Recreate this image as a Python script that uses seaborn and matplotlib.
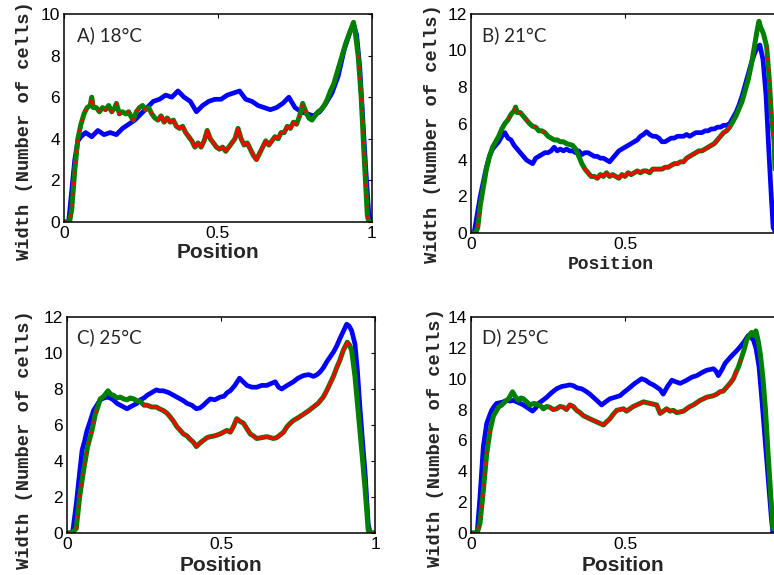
import numpy as np
import pandas as pd
import matplotlib
matplotlib.use("Agg")
import matplotlib.pyplot as plt
import seaborn as sns

# ---------------- data ----------------
titles = ["A) 18°C", "B) 21°C", "C) 25°C", "D) 25°C"]
y_maxes = [10, 12, 12, 14]

a_blue_x = [0, 0.015, 0.025, 0.035, 0.045, 0.055, 0.07, 0.09, 0.11, 0.13, 0.15, 0.17, 0.19, 0.21, 0.23, 0.25,
            0.27, 0.29, 0.31, 0.33, 0.35, 0.37, 0.39, 0.41, 0.43, 0.45, 0.47, 0.49, 0.51, 0.53, 0.55, 0.57,
            0.59, 0.61, 0.63, 0.65, 0.67, 0.69, 0.71, 0.73, 0.75, 0.77, 0.79, 0.81, 0.83, 0.85, 0.87, 0.89,
            0.91, 0.93, 0.94, 0.95, 0.96, 0.97, 0.98, 0.99, 1.0]
a_blue_y = [0, 0, 1.5, 3.0, 3.9, 4.1, 4.3, 4.1, 4.4, 4.2, 4.3, 4.2, 4.5, 4.7, 4.9, 5.2,
            5.5, 5.8, 5.9, 6.1, 6.0, 6.3, 6.0, 5.8, 5.3, 5.6, 5.8, 5.9, 5.9, 6.1, 6.2, 6.3,
            5.9, 5.8, 5.6, 5.5, 5.4, 5.5, 5.7, 6.0, 5.5, 5.3, 5.2, 5.1, 5.3, 5.7, 6.2, 7.0,
            8.3, 9.2, 9.5, 9.0, 7.5, 5.0, 2.5, 0.3, 0]
a_rg_x = [0, 0.018, 0.025, 0.035, 0.045, 0.055, 0.065, 0.075, 0.085, 0.09, 0.095, 0.105, 0.115, 0.125, 0.135,
          0.145, 0.155, 0.165, 0.17, 0.18, 0.19, 0.2, 0.21, 0.22, 0.225, 0.235, 0.245, 0.255, 0.265, 0.275,
          0.285, 0.295, 0.305, 0.315, 0.325, 0.335, 0.345, 0.355, 0.365, 0.375, 0.385, 0.395, 0.405, 0.415,
          0.425, 0.435, 0.445, 0.455, 0.465, 0.475, 0.485, 0.495, 0.505, 0.515, 0.525, 0.535, 0.545, 0.555,
          0.565, 0.575, 0.585, 0.595, 0.605, 0.615, 0.625, 0.635, 0.645, 0.655, 0.665, 0.675, 0.685, 0.695,
          0.705, 0.715, 0.725, 0.735, 0.745, 0.755, 0.765, 0.775, 0.785, 0.795, 0.805, 0.815, 0.825, 0.835,
          0.845, 0.855, 0.865, 0.875, 0.885, 0.895, 0.905, 0.915, 0.925, 0.935, 0.94, 0.945, 0.955, 0.965,
          0.975, 0.985, 0.99, 1.0]
a_rg_y = [0, 0, 0.6, 2.5, 4.0, 4.7, 5.2, 5.5, 5.6, 6.0, 5.5, 5.5, 5.3, 5.5, 5.4,
          5.6, 5.3, 5.5, 5.7, 5.2, 5.3, 5.2, 5.3, 5.0, 4.9, 5.3, 5.5, 5.6, 5.4, 5.5,
          5.2, 5.0, 4.9, 5.1, 4.8, 5.0, 4.8, 4.9, 4.6, 4.5, 4.6, 4.3, 4.1, 3.9,
          3.6, 3.8, 3.6, 3.9, 4.4, 4.0, 3.8, 3.6, 3.5, 3.6, 3.4, 3.6, 3.8, 4.0,
          4.5, 4.0, 3.7, 3.8, 3.5, 3.2, 3.0, 3.3, 3.6, 3.9, 3.7, 3.9, 4.1, 4.0,
          4.3, 4.3, 4.6, 4.5, 4.8, 4.7, 5.1, 5.7, 5.3, 5.0, 4.9, 5.1, 5.3, 5.4,
          5.6, 5.9, 6.3, 6.6, 7.1, 7.6, 8.1, 8.6, 9.0, 9.4, 9.6, 9.2, 8.0, 6.0,
          3.0, 0.3, 0, 0]

b_blue_x = [0, 0.01, 0.02, 0.03, 0.04, 0.05, 0.06, 0.07, 0.08, 0.09, 0.1, 0.11, 0.12, 0.13, 0.14, 0.15, 0.16,
            0.17, 0.18, 0.19, 0.2, 0.21, 0.22, 0.23, 0.24, 0.25, 0.26, 0.27, 0.28, 0.29, 0.3, 0.31, 0.32,
            0.33, 0.34, 0.35, 0.36, 0.37, 0.38, 0.39, 0.4, 0.41, 0.42, 0.43, 0.44, 0.45, 0.46, 0.47, 0.48,
            0.49, 0.5, 0.51, 0.52, 0.53, 0.54, 0.55, 0.56, 0.57, 0.58, 0.59, 0.6, 0.61, 0.62, 0.63, 0.64,
            0.65, 0.66, 0.67, 0.68, 0.69, 0.7, 0.71, 0.72, 0.73, 0.74, 0.75, 0.76, 0.77, 0.78, 0.79, 0.8,
            0.81, 0.82, 0.83, 0.84, 0.85, 0.86, 0.87, 0.88, 0.89, 0.9, 0.91, 0.92, 0.93, 0.938, 0.948,
            0.958, 0.967, 0.975, 0.981, 0.99]
b_blue_y = [0, 0, 1.0, 2.0, 2.8, 3.6, 4.2, 4.6, 4.8, 5.0, 5.3, 5.5, 5.2, 5.1, 4.8, 4.6, 4.4,
            4.2, 4.0, 3.9, 3.8, 4.1, 4.2, 4.3, 4.4, 4.4, 4.5, 4.7, 4.5, 4.6, 4.5, 4.6, 4.5,
            4.5, 4.4, 4.5, 4.3, 4.4, 4.4, 4.3, 4.2, 4.2, 4.1, 4.1, 4.0, 3.9, 4.1, 4.3, 4.5,
            4.6, 4.7, 4.8, 4.9, 5.0, 5.1, 5.3, 5.4, 5.55, 5.4, 5.3, 5.3, 5.2, 5.0, 5.0, 5.1,
            5.2, 5.2, 5.3, 5.3, 5.3, 5.4, 5.3, 5.4, 5.5, 5.5, 5.5, 5.6, 5.6, 5.7, 5.7, 5.8,
            5.8, 5.9, 5.9, 6.0, 6.3, 6.6, 7.0, 7.5, 8.1, 8.7, 9.3, 9.8, 10.2, 10.3, 9.5,
            7.5, 4.5, 2.0, 0.3, 0]
b_rg_x = [0, 0.015, 0.022, 0.03, 0.04, 0.05, 0.06, 0.07, 0.08, 0.09, 0.1, 0.11, 0.12, 0.13, 0.14, 0.145,
          0.15, 0.16, 0.17, 0.18, 0.19, 0.2, 0.21, 0.22, 0.23, 0.24, 0.25, 0.26, 0.27, 0.28, 0.29, 0.3,
          0.31, 0.32, 0.33, 0.34, 0.35, 0.36, 0.37, 0.38, 0.39, 0.4, 0.41, 0.42, 0.43, 0.44, 0.45, 0.46,
          0.47, 0.48, 0.49, 0.5, 0.51, 0.52, 0.53, 0.54, 0.55, 0.56, 0.57, 0.58, 0.59, 0.6, 0.61, 0.62,
          0.63, 0.64, 0.65, 0.66, 0.67, 0.68, 0.69, 0.7, 0.71, 0.72, 0.73, 0.74, 0.75, 0.76, 0.77, 0.78,
          0.79, 0.8, 0.81, 0.82, 0.83, 0.84, 0.85, 0.86, 0.87, 0.88, 0.89, 0.9, 0.91, 0.92, 0.93, 0.935,
          0.94, 0.95, 0.96, 0.968, 0.975, 0.984, 0.99, 1.0]
b_rg_y = [0, 0, 0.3, 1.5, 2.5, 3.5, 4.2, 4.7, 5.0, 5.3, 5.7, 6.0, 6.2, 6.5, 6.7, 6.9,
          6.6, 6.6, 6.4, 6.2, 6.0, 5.85, 5.8, 5.6, 5.6, 5.5, 5.3, 5.2, 5.1, 5.1, 5.0, 5.0,
          4.9, 4.85, 4.8, 4.6, 4.2, 3.8, 3.5, 3.3, 3.1, 3.1, 3.0, 3.2, 3.1, 3.3, 3.1, 3.2,
          3.1, 3.0, 3.2, 3.1, 3.3, 3.2, 3.3, 3.4, 3.3, 3.4, 3.4, 3.3, 3.5, 3.5, 3.5, 3.5,
          3.6, 3.6, 3.7, 3.8, 3.8, 3.9, 3.9, 4.1, 4.2, 4.3, 4.4, 4.5, 4.5, 4.6, 4.7, 4.8,
          4.9, 5.1, 5.3, 5.5, 5.6, 5.8, 6.1, 6.4, 6.8, 7.2, 7.8, 8.4, 9.2, 10.2, 11.2, 11.6,
          11.3, 10.9, 10.2, 8.5, 6.5, 5.0, 2.0, 0]

c_blue_x = [0, 0.018, 0.03, 0.04, 0.049, 0.057, 0.065, 0.075, 0.086, 0.097, 0.108, 0.12, 0.13, 0.14, 0.15,
            0.162, 0.173, 0.184, 0.195, 0.205, 0.216, 0.227, 0.238, 0.25, 0.26, 0.275, 0.29, 0.3, 0.313,
            0.33, 0.346, 0.362, 0.378, 0.39, 0.405, 0.42, 0.432, 0.443, 0.455, 0.465, 0.48, 0.497, 0.51,
            0.52, 0.53, 0.545, 0.56, 0.572, 0.584, 0.6, 0.616, 0.632, 0.649, 0.662, 0.676, 0.687, 0.697,
            0.715, 0.735, 0.75, 0.768, 0.785, 0.8, 0.812, 0.822, 0.833, 0.843, 0.855, 0.865, 0.876, 0.886,
            0.897, 0.908, 0.916, 0.924, 0.935, 0.943, 0.951, 0.96, 0.968, 0.978, 0.984, 1.0]
c_blue_y = [0, 0, 1.6, 3.2, 4.6, 5.1, 5.7, 6.2, 6.8, 7.1, 7.4, 7.5, 7.55, 7.5, 7.4,
            7.2, 7.1, 7.0, 6.9, 7.0, 7.1, 7.2, 7.4, 7.5, 7.65, 7.8, 7.95, 7.9, 7.9,
            7.8, 7.65, 7.5, 7.35, 7.2, 7.1, 6.9, 6.95, 7.1, 7.3, 7.45, 7.4, 7.55, 7.6,
            7.8, 7.9, 8.2, 8.6, 8.4, 8.2, 8.1, 8.1, 8.2, 8.2, 8.3, 8.4, 8.1, 8.0,
            8.2, 8.4, 8.6, 8.75, 8.8, 8.7, 8.8, 8.95, 9.2, 9.5, 9.8, 10.05, 10.4, 10.8,
            11.2, 11.6, 11.5, 11.25, 10.5, 9.0, 7.0, 5.0, 3.3, 0.5, 0, 0]
c_rg_x = [0, 0.016, 0.03, 0.041, 0.054, 0.067, 0.081, 0.092, 0.1, 0.108, 0.12, 0.133, 0.142, 0.151, 0.162,
          0.173, 0.184, 0.195, 0.205, 0.216, 0.227, 0.238, 0.25, 0.26, 0.275, 0.29, 0.3, 0.313, 0.325,
          0.335, 0.346, 0.357, 0.368, 0.378, 0.389, 0.4, 0.41, 0.42, 0.432, 0.443, 0.455, 0.465, 0.48,
          0.497, 0.508, 0.519, 0.53, 0.54, 0.551, 0.562, 0.573, 0.584, 0.595, 0.605, 0.616, 0.632, 0.649,
          0.66, 0.67, 0.681, 0.692, 0.703, 0.714, 0.725, 0.735, 0.75, 0.768, 0.785, 0.8, 0.815, 0.832,
          0.843, 0.854, 0.865, 0.876, 0.886, 0.897, 0.91, 0.917, 0.924, 0.935, 0.943, 0.951, 0.96, 0.968,
          0.978, 0.984, 1.0]
c_rg_y = [0, 0, 0.25, 2.0, 3.5, 4.8, 5.7, 6.6, 7.0, 7.45, 7.6, 7.9, 7.7, 7.65, 7.5,
          7.55, 7.45, 7.4, 7.5, 7.45, 7.35, 7.3, 7.1, 7.1, 7.0, 7.0, 6.9, 6.8, 6.65,
          6.45, 6.2, 5.9, 5.7, 5.5, 5.4, 5.2, 5.05, 4.8, 5.0, 5.15, 5.3, 5.35, 5.4,
          5.5, 5.6, 5.7, 5.6, 5.9, 6.35, 6.2, 6.1, 5.8, 5.5, 5.4, 5.25, 5.3, 5.35,
          5.3, 5.25, 5.3, 5.45, 5.6, 5.9, 6.1, 6.25, 6.4, 6.6, 6.8, 7.0, 7.2, 7.55,
          7.9, 8.3, 8.7, 9.2, 9.6, 10.15, 10.6, 10.45, 10.15, 8.7, 7.2, 5.7, 4.0, 2.4,
          0.15, 0, 0]

d_blue_x = [0, 0.02, 0.029, 0.04, 0.051, 0.06, 0.067, 0.075, 0.083, 0.095, 0.105, 0.116, 0.127, 0.138, 0.148,
            0.16, 0.17, 0.185, 0.2, 0.21, 0.219, 0.233, 0.246, 0.262, 0.278, 0.295, 0.31, 0.32, 0.332,
            0.345, 0.359, 0.372, 0.386, 0.397, 0.408, 0.416, 0.424, 0.437, 0.451, 0.468, 0.484, 0.495, 0.505,
            0.52, 0.532, 0.543, 0.554, 0.567, 0.581, 0.592, 0.603, 0.614, 0.624, 0.638, 0.652, 0.665, 0.679,
            0.69, 0.7, 0.717, 0.733, 0.75, 0.765, 0.777, 0.787, 0.795, 0.803, 0.815, 0.825, 0.838, 0.852,
            0.862, 0.873, 0.887, 0.9, 0.909, 0.917, 0.925, 0.935, 0.945, 0.955, 0.965, 0.975, 0.98, 1.0]
d_blue_y = [0, 0, 2.3, 5.6, 7.1, 7.6, 7.95, 8.2, 8.4, 8.45, 8.5, 8.6, 8.55, 8.6, 8.5,
            8.4, 8.3, 8.1, 7.9, 8.1, 8.4, 8.6, 8.8, 9.1, 9.35, 9.5, 9.55, 9.6, 9.55,
            9.4, 9.35, 9.2, 9.0, 8.8, 8.6, 8.45, 8.3, 8.5, 8.7, 8.8, 8.9, 9.1, 9.25,
            9.5, 9.7, 9.85, 10.0, 9.9, 9.7, 9.6, 9.45, 9.3, 9.0, 9.5, 9.9, 9.8, 9.7,
            9.8, 9.9, 10.1, 10.2, 10.4, 10.55, 10.6, 10.65, 10.5, 10.2, 10.6, 11.0, 11.3, 11.6,
            11.8, 12.05, 12.4, 12.8, 12.7, 12.5, 12.0, 10.8, 8.5, 6.0, 3.5, 1.0, 0, 0]
d_rg_x = [0, 0.02, 0.029, 0.04, 0.051, 0.062, 0.073, 0.089, 0.1, 0.11, 0.122, 0.135, 0.145, 0.154, 0.162,
          0.17, 0.181, 0.192, 0.205, 0.219, 0.228, 0.235, 0.246, 0.256, 0.267, 0.278, 0.289, 0.3, 0.31,
          0.321, 0.332, 0.343, 0.354, 0.365, 0.376, 0.386, 0.397, 0.408, 0.419, 0.43, 0.44, 0.451, 0.462,
          0.473, 0.484, 0.495, 0.505, 0.516, 0.527, 0.538, 0.549, 0.56, 0.57, 0.581, 0.592, 0.603, 0.614,
          0.625, 0.635, 0.646, 0.657, 0.668, 0.679, 0.69, 0.7, 0.711, 0.722, 0.733, 0.744, 0.755, 0.765,
          0.776, 0.787, 0.798, 0.808, 0.819, 0.83, 0.841, 0.852, 0.86, 0.868, 0.879, 0.887, 0.895, 0.903,
          0.911, 0.918, 0.925, 0.932, 0.94, 0.948, 0.956, 0.965, 0.973, 0.98, 1.0]
d_rg_y = [0, 0, 0.6, 2.75, 5.15, 6.65, 7.6, 8.15, 8.3, 8.5, 8.7, 9.15, 8.8, 8.6, 8.75,
          8.7, 8.5, 8.3, 8.4, 8.3, 8.2, 8.05, 8.2, 8.15, 8.0, 8.05, 8.2, 8.15, 8.0,
          8.3, 8.2, 7.95, 7.8, 7.6, 7.5, 7.4, 7.3, 7.2, 7.1, 7.0, 7.2, 7.4, 7.7,
          7.95, 8.0, 8.05, 7.9, 8.05, 8.2, 8.3, 8.4, 8.5, 8.45, 8.4, 8.35, 8.3, 7.75,
          7.9, 8.05, 7.9, 7.95, 7.8, 7.85, 7.9, 8.05, 8.2, 8.3, 8.45, 8.6, 8.7, 8.8,
          8.85, 8.9, 9.0, 9.15, 9.2, 9.45, 9.7, 10.0, 10.4, 10.75, 11.4, 11.9, 12.5, 12.8,
          13.0, 12.8, 13.1, 12.5, 11.5, 10.0, 8.0, 5.0, 2.5, 0.3, 0]

panels = [
    dict(bx=a_blue_x, by=a_blue_y, gx=a_rg_x, gy=a_rg_y),
    dict(bx=b_blue_x, by=b_blue_y, gx=b_rg_x, gy=b_rg_y),
    dict(bx=c_blue_x, by=c_blue_y, gx=c_rg_x, gy=c_rg_y),
    dict(bx=d_blue_x, by=d_blue_y, gx=d_rg_x, gy=d_rg_y),
]

# ---------------- layout / style ----------------
sns.set_style("white")
plt.rcParams["font.family"] = ["Liberation Sans Narrow", "Liberation Sans", "DejaVu Sans"]

W, H = 774, 575
fig = plt.figure(figsize=(W / 100, H / 100), dpi=100)

def frac_rect(left, top, right, bottom):
    return [left / W, 1 - bottom / H, (right - left) / W, (bottom - top) / H]

rects = [frac_rect(64, 14, 372, 222), frac_rect(471, 14, 774, 233),
         frac_rect(67, 317, 375, 533), frac_rect(471, 317, 774, 533)]
xmaxes = [1.0, 303 / 308, 1.0, 303 / 308]
title_pos = [(0.042, 0.90), (0.036, 0.904), (0.032, 0.907), (0.036, 0.907)]
ylabel_pos = [(-0.10, 0.44), (-0.10, 0.452), (-0.11, 0.43), (-0.09, 0.44)]
xlabel_style = ["sans", "mono", "sans", "sans"]
xlabel_pos = [(0.5, -0.103), (0.46, -0.103), (0.5, -0.108), (0.503, -0.108)]
red_solid = [[(0.30, 0.76)], [(0.37, 0.84)], [(0.25, 0.92)], [(0.25, 0.86)]]
red_dot = [[(0.0, 0.30), (0.74, 0.80), (0.955, 1.0)],
           [(0.0, 0.03), (0.12, 0.25), (0.955, 1.0)],
           [(0.0, 0.10), (0.98, 1.0)],
           [(0.0, 0.07), (0.86, 0.88)]]

for i, p in enumerate(panels):
    ax = fig.add_axes(rects[i])
    dfb = pd.DataFrame({"pos": p["bx"], "w": p["by"]})
    dfg = pd.DataFrame({"pos": p["gx"], "w": p["gy"]})
    sns.lineplot(data=dfb, x="pos", y="w", ax=ax, color=(0, 0, 1), lw=3.4,
                 estimator=None, sort=False)
    sns.lineplot(data=dfg, x="pos", y="w", ax=ax, color=(0, 0.5, 0), lw=3.6,
                 estimator=None, sort=False)
    for lo, hi in red_solid[i]:
        seg = dfg[(dfg.pos >= lo) & (dfg.pos <= hi)]
        sns.lineplot(data=seg, x="pos", y="w", ax=ax, color=(1, 0, 0), lw=2.2,
                     estimator=None, sort=False)
    for lo, hi in red_dot[i]:
        seg = dfg[(dfg.pos >= lo) & (dfg.pos <= hi)]
        sns.lineplot(data=seg, x="pos", y="w", ax=ax, color=(1, 0, 0), lw=2.2,
                     estimator=None, sort=False, linestyle=(0, (1, 2.5)))

    ax.set_xlim(0, xmaxes[i])
    ax.set_ylim(0, y_maxes[i])
    ax.set_xticks([0, 0.5, 1] if xmaxes[i] >= 1 else [0, 0.5])
    ax.set_xticklabels(["0", "0.5", "1"] if xmaxes[i] >= 1 else ["0", "0.5"])
    ax.set_yticks(list(range(0, y_maxes[i] + 1, 2)))
    ax.tick_params(direction="in", length=3, width=0.8, labelsize=12.5, pad=3,
                   top=True, right=(xmaxes[i] >= 1), colors="black")
    for s in ax.spines.values():
        s.set_linewidth(1.1)
        s.set_color("black")
    if xmaxes[i] < 1:
        ax.spines["right"].set_visible(False)

    ax.set_ylabel("Width (Number of cells)", family=["Liberation Mono", "DejaVu Sans Mono"],
                  fontweight="bold", fontsize=13.5)
    ax.yaxis.set_label_coords(*ylabel_pos[i])
    if xlabel_style[i] == "sans":
        ax.set_xlabel("Position", family=["Liberation Sans", "DejaVu Sans"], fontweight="bold",
                      fontsize=15)
    else:
        ax.set_xlabel("Position", family=["Liberation Mono", "DejaVu Sans Mono"],
                      fontweight="bold", fontsize=13)
    ax.xaxis.set_label_coords(*xlabel_pos[i])
    ax.text(title_pos[i][0], title_pos[i][1], titles[i], transform=ax.transAxes,
            family=["Lato", "DejaVu Sans"], fontsize=13.5, va="center", ha="left")

fig.savefig("out.png", dpi=100)
